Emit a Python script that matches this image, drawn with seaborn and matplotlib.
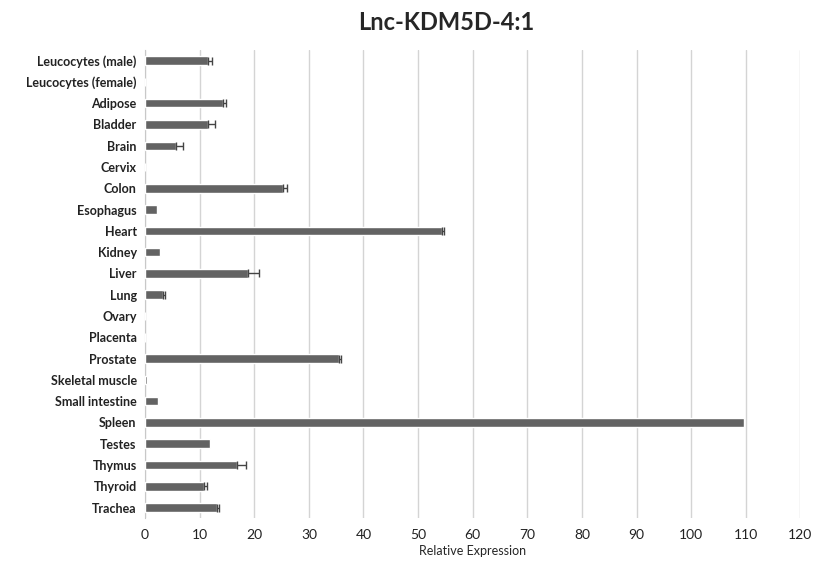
import numpy as np
import pandas as pd
import matplotlib
matplotlib.use('Agg')
import matplotlib.pyplot as plt
import seaborn as sns

tecidos = ['Leucocytes (male)', 'Leucocytes (female)', 'Adipose', 'Bladder', 'Brain',
           'Cervix', 'Colon', 'Esophagus', 'Heart', 'Kidney', 'Liver', 'Lung', 'Ovary',
           'Placenta', 'Prostate', 'Skeletal muscle', 'Small intestine', 'Spleen',
           'Testes', 'Thymus', 'Thyroid', 'Trachea']
expressao = [11.6, 0, 14.2, 11.6, 5.7, 0, 25.3, 2.1, 54.4, 2.7, 18.9, 3.2, 0, 0,
             35.5, 0.4, 2.3, 109.6, 11.8, 16.8, 10.8, 13.1]
erro = [0.6, 0, 0.6, 1.2, 1.2, 0, 0.7, 0, 0.4, 0, 2.0, 0.4, 0, 0,
        0.4, 0, 0, 0, 0, 1.6, 0.6, 0.5]

df = pd.DataFrame({'tecido': tecidos, 'valor': expressao, 'erro': erro})
df['pos'] = np.arange(len(df))

sns.set_style('white')
plt.rcParams['font.family'] = ['Lato', 'DejaVu Sans']

fig = plt.figure(figsize=(8.15, 5.62), dpi=100)
ax = fig.add_axes([0.178, 0.078, 0.804, 0.833])

sns.barplot(data=df, x='valor', y='tecido', orient='h', color='#636363',
            width=0.4, errorbar=None, ax=ax, zorder=3)
com_erro = df[df['erro'] > 0]
ax.errorbar(com_erro['valor'], com_erro['pos'],
            xerr=[np.zeros(len(com_erro)), com_erro['erro']],
            fmt='none', ecolor='#444444', elinewidth=1, capsize=3, zorder=4)

ax.set_xlim(0, 120)
ax.set_xticks(range(0, 121, 10))
ax.set_ylim(len(df) - 0.5, -0.5)
ax.grid(axis='x', color='#d4d4d4', linewidth=1, zorder=0)
ax.grid(axis='y', visible=False)
for s in ['top', 'right', 'bottom']:
    ax.spines[s].set_visible(False)
ax.spines['left'].set_color('#c8c8c8')
ax.tick_params(axis='both', length=0, colors='#222222')
ax.tick_params(axis='y', labelsize=9, pad=6)
for lab in ax.get_yticklabels():
    lab.set_fontweight('bold')
ax.tick_params(axis='x', labelsize=10, pad=8)
ax.set_xlabel('Relative Expression', fontsize=9, labelpad=3)
ax.set_ylabel('')
fig.text(0.547, 0.96, 'Lnc-KDM5D-4:1', ha='center', va='center',
         fontsize=17, fontweight='bold')

plt.savefig('out.png', dpi=100)
